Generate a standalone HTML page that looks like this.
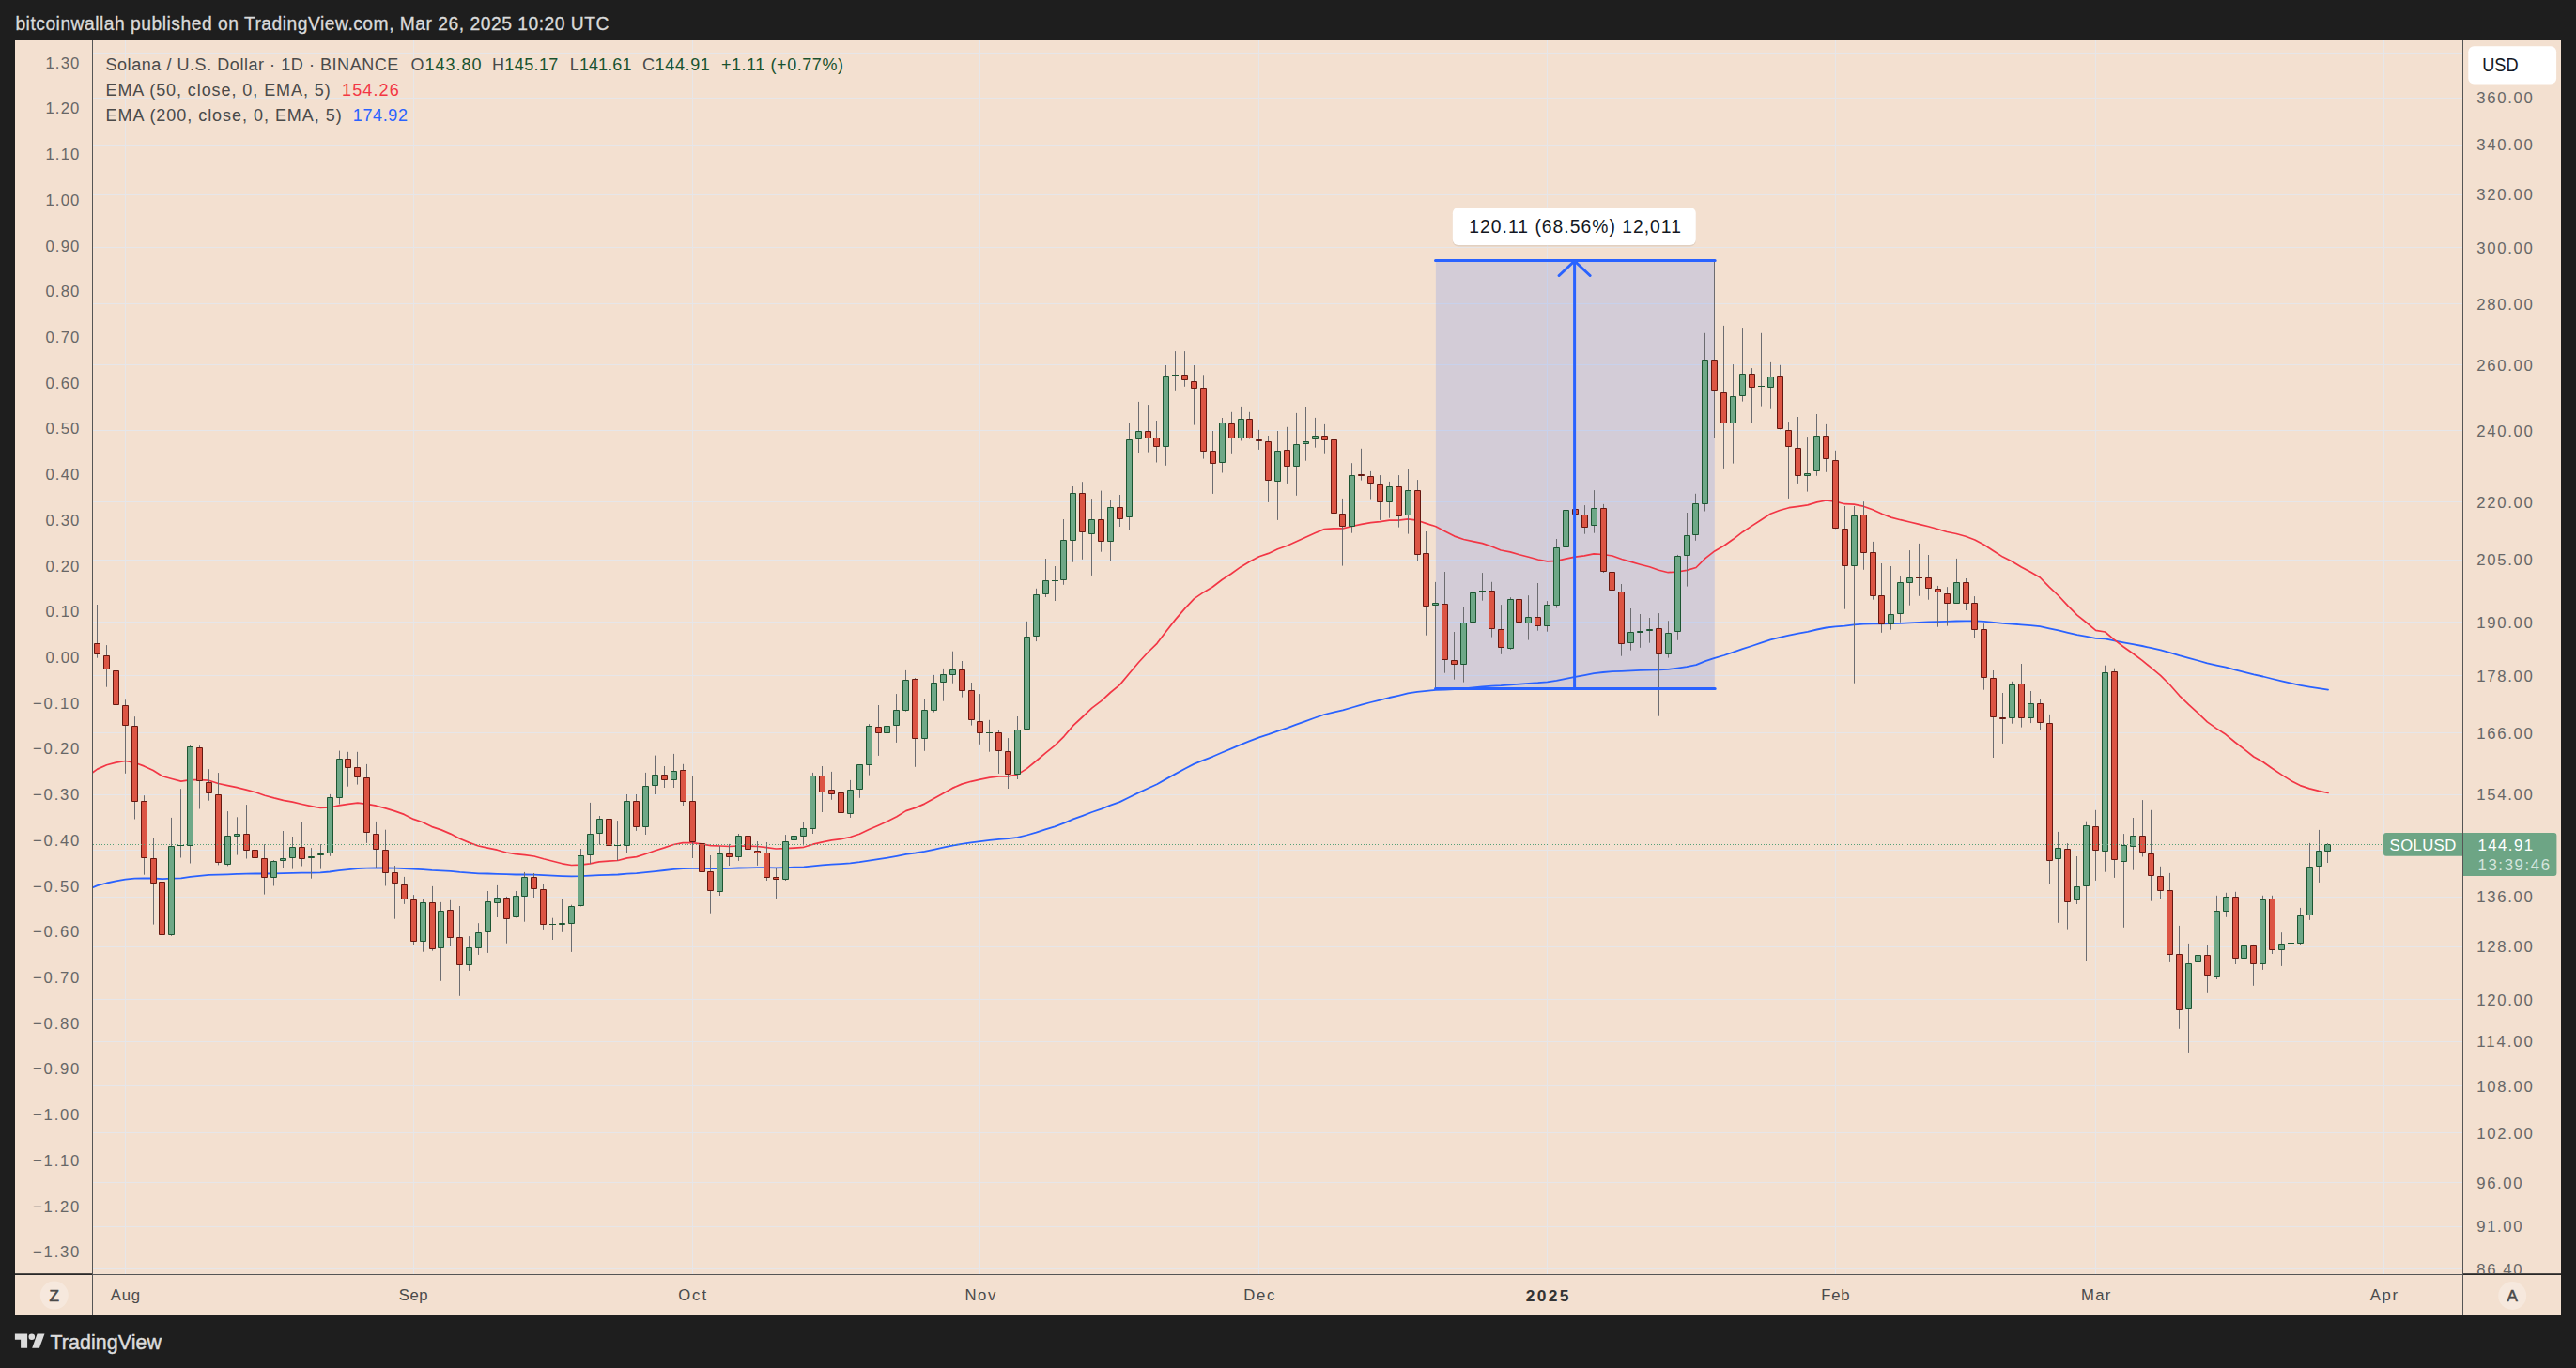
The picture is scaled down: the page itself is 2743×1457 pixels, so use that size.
<!DOCTYPE html>
<html lang="en"><head><meta charset="utf-8"><title>SOLUSD chart</title><style>html,body{margin:0;padding:0;background:#1e1e1e;}body{width:2743px;height:1457px;overflow:hidden;}</style></head><body>
<svg width="2743" height="1457" viewBox="0 0 2743 1457" font-family='"Liberation Sans", Arial, Helvetica, sans-serif' style="display:block">
<rect width="2743" height="1457" fill="#1e1e1e"/>
<rect x="16" y="43" width="2711" height="1358" fill="#f3e0d0"/>
<path d="M99 56.5H2622M99 104.5H2622M99 154.5H2622M99 207.5H2622M99 263.5H2622M99 323.5H2622M99 388.5H2622M99 458.5H2622M99 534.5H2622M99 596.5H2622M99 662.5H2622M99 719.5H2622M99 780.5H2622M99 846.5H2622M99 905.5H2622M99 955.5H2622M99 1008.5H2622M99 1064.5H2622M99 1109.5H2622M99 1156.5H2622M99 1206.5H2622M99 1259.5H2622M99 1306.5H2622M99 1351.5H2622M133.5 43V1357M440.5 43V1357M737.5 43V1357M1043.5 43V1357M1340.5 43V1357M1647.5 43V1357M1954.5 43V1357M2231.5 43V1357M2538.5 43V1357" stroke="#e6e6e9" stroke-width="1" fill="none"/>
<rect x="1528.9" y="277.5" width="296.9" height="456.0" fill="#2962ff" fill-opacity="0.16"/>
<path d="M99.0 945.1 L103.7 943.1 L113.6 940.5 L123.5 938.4 L133.4 936.6 L143.3 935.7 L153.2 935.5 L163.1 935.5 L173.0 936.1 L182.9 935.7 L192.8 935.4 L202.7 933.9 L212.6 932.8 L222.5 931.9 L232.4 931.7 L242.3 931.3 L252.2 930.9 L262.1 930.6 L272.0 930.4 L281.9 930.5 L291.8 930.3 L301.6 930.2 L311.5 929.9 L321.4 929.7 L331.3 929.6 L341.2 929.3 L351.1 928.5 L361.0 927.2 L370.9 926.1 L380.8 925.0 L390.7 924.6 L400.6 924.4 L410.5 924.5 L420.4 924.6 L430.3 925.0 L440.2 925.7 L450.1 926.1 L460.0 926.9 L469.9 927.3 L479.8 927.9 L489.7 928.9 L499.6 929.6 L509.5 930.3 L519.4 930.5 L529.3 930.8 L539.2 931.2 L549.1 931.5 L559.0 931.5 L568.9 931.6 L578.8 932.1 L588.7 932.6 L598.6 933.1 L608.5 933.4 L618.4 933.2 L628.3 932.7 L638.1 932.1 L648.0 931.8 L657.9 931.5 L667.8 930.7 L677.7 930.1 L687.6 929.2 L697.5 928.1 L707.4 927.0 L717.3 925.9 L727.2 925.2 L737.1 924.9 L747.0 924.9 L756.9 925.1 L766.8 925.0 L776.7 924.9 L786.6 924.5 L796.5 924.3 L806.4 924.1 L816.3 924.2 L826.2 924.4 L836.1 924.1 L846.0 923.7 L855.9 923.3 L865.8 922.3 L875.7 921.4 L885.6 920.7 L895.5 920.1 L905.4 919.3 L915.3 918.1 L925.2 916.6 L935.1 915.1 L945.0 913.6 L954.9 911.8 L964.7 909.8 L974.6 908.5 L984.5 906.8 L994.4 904.8 L1004.3 902.7 L1014.2 900.6 L1024.1 898.8 L1034.0 897.4 L1043.9 896.1 L1053.8 894.9 L1063.7 893.9 L1073.6 893.2 L1083.5 891.9 L1093.4 889.5 L1103.3 886.6 L1113.2 883.4 L1123.1 880.3 L1133.0 876.7 L1142.9 872.4 L1152.8 868.8 L1162.7 865.0 L1172.6 861.6 L1182.5 857.7 L1192.4 854.1 L1202.3 849.3 L1212.2 844.4 L1222.1 839.7 L1232.0 835.2 L1241.9 829.6 L1251.8 824.1 L1261.7 818.8 L1271.6 813.6 L1281.5 809.6 L1291.4 805.8 L1301.2 801.5 L1311.1 797.4 L1321.0 793.1 L1330.9 789.2 L1340.8 785.4 L1350.7 782.2 L1360.6 778.6 L1370.5 775.3 L1380.4 771.7 L1390.3 768.1 L1400.2 764.5 L1410.1 761.0 L1420.0 758.6 L1429.9 756.4 L1439.8 753.5 L1449.7 750.6 L1459.6 748.0 L1469.5 745.6 L1479.4 743.0 L1489.3 740.8 L1499.2 738.4 L1509.1 736.8 L1519.0 735.8 L1528.9 734.8 L1538.8 734.5 L1548.7 734.2 L1558.6 733.5 L1568.5 732.4 L1578.4 731.3 L1588.3 730.7 L1598.2 730.2 L1608.1 729.3 L1618.0 728.6 L1627.8 727.8 L1637.7 727.2 L1647.6 726.3 L1657.5 724.8 L1667.4 722.8 L1677.3 720.9 L1687.2 719.1 L1697.1 717.1 L1707.0 716.0 L1716.9 715.1 L1726.8 714.8 L1736.7 714.4 L1746.6 713.9 L1756.5 713.5 L1766.4 713.3 L1776.3 712.9 L1786.2 711.6 L1796.1 710.1 L1806.0 708.2 L1815.9 704.2 L1825.8 700.8 L1835.7 698.0 L1845.6 694.7 L1855.5 691.2 L1865.4 688.0 L1875.3 684.7 L1885.2 681.4 L1895.1 678.8 L1905.0 676.6 L1914.9 674.7 L1924.8 672.8 L1934.7 670.5 L1944.6 668.5 L1954.4 667.4 L1964.3 666.7 L1974.2 665.4 L1984.1 664.6 L1994.0 664.3 L2003.9 664.3 L2013.8 664.2 L2023.7 663.8 L2033.6 663.3 L2043.5 662.8 L2053.4 662.4 L2063.3 662.1 L2073.2 661.9 L2083.1 661.5 L2093.0 661.3 L2102.9 661.4 L2112.8 661.9 L2122.7 662.9 L2132.6 663.8 L2142.5 664.5 L2152.4 665.4 L2162.3 666.2 L2172.2 667.2 L2182.1 669.3 L2192.0 671.4 L2201.9 673.8 L2211.8 676.1 L2221.7 677.9 L2231.6 679.9 L2241.5 680.3 L2251.4 682.3 L2261.3 684.3 L2271.2 686.1 L2281.1 688.0 L2290.9 690.2 L2300.8 692.4 L2310.7 695.1 L2320.6 698.2 L2330.5 700.9 L2340.4 703.5 L2350.3 706.3 L2360.2 708.6 L2370.1 710.7 L2380.0 713.3 L2389.9 715.8 L2399.8 718.4 L2409.7 720.5 L2419.6 723.0 L2429.5 725.4 L2439.4 727.7 L2449.3 729.9 L2459.2 731.6 L2469.1 733.2 L2479.0 734.7" stroke="#2962ff" stroke-width="1.8" fill="none" stroke-linejoin="round" stroke-linecap="round"/>
<path d="M99.0 822.5 L103.7 819.1 L113.6 814.7 L123.5 812.1 L133.4 810.5 L143.3 812.2 L153.2 815.9 L163.1 820.5 L173.0 826.7 L182.9 829.5 L192.8 832.1 L202.7 830.6 L212.6 830.7 L222.5 831.2 L232.4 834.5 L242.3 836.6 L252.2 838.6 L262.1 841.1 L272.0 843.8 L281.9 847.2 L291.8 849.9 L301.6 852.3 L311.5 854.2 L321.4 856.5 L331.3 858.6 L341.2 860.5 L351.1 860.0 L361.0 857.9 L370.9 856.3 L380.8 855.2 L390.7 856.4 L400.6 858.2 L410.5 860.9 L420.4 863.9 L430.3 867.4 L440.2 872.4 L450.1 875.7 L460.0 880.6 L469.9 883.9 L479.8 888.1 L489.7 893.2 L499.6 897.4 L509.5 901.0 L519.4 903.2 L529.3 905.2 L539.2 908.0 L549.1 909.7 L559.0 910.6 L568.9 912.0 L578.8 914.8 L588.7 917.3 L598.6 919.8 L608.5 921.5 L618.4 921.1 L628.3 919.8 L638.1 917.8 L648.0 917.2 L657.9 916.5 L667.8 913.9 L677.7 912.6 L687.6 909.5 L697.5 906.0 L707.4 902.9 L717.3 899.5 L727.2 897.7 L737.1 897.6 L747.0 898.8 L756.9 900.7 L766.8 901.0 L776.7 901.5 L786.6 901.0 L796.5 901.2 L806.4 901.5 L816.3 902.7 L826.2 904.0 L836.1 903.7 L846.0 903.1 L855.9 902.3 L865.8 899.2 L875.7 896.9 L885.6 894.8 L895.5 893.7 L905.4 891.5 L915.3 888.3 L925.2 883.5 L935.1 879.2 L945.0 874.8 L954.9 869.8 L964.7 863.6 L974.6 860.4 L984.5 856.1 L994.4 850.6 L1004.3 845.0 L1014.2 839.4 L1024.1 835.1 L1034.0 832.3 L1043.9 830.2 L1053.8 828.2 L1063.7 827.0 L1073.6 826.9 L1083.5 824.9 L1093.4 818.6 L1103.3 810.5 L1113.2 802.1 L1123.1 794.1 L1133.0 784.3 L1142.9 772.6 L1152.8 763.5 L1162.7 754.2 L1172.6 746.6 L1182.5 737.5 L1192.4 729.4 L1202.3 717.5 L1212.2 705.8 L1222.1 695.0 L1232.0 685.3 L1241.9 672.2 L1251.8 659.6 L1261.7 648.1 L1271.6 637.6 L1281.5 630.9 L1291.4 625.0 L1301.2 617.5 L1311.1 611.0 L1321.0 603.9 L1330.9 598.1 L1340.8 592.7 L1350.7 589.4 L1360.6 584.8 L1370.5 581.2 L1380.4 576.7 L1390.3 572.2 L1400.2 567.7 L1410.1 563.6 L1420.0 562.9 L1429.9 562.8 L1439.8 560.5 L1449.7 558.3 L1459.6 556.6 L1469.5 555.7 L1479.4 554.2 L1489.3 554.1 L1499.2 552.8 L1509.1 554.2 L1519.0 557.6 L1528.9 560.7 L1538.8 565.9 L1548.7 571.1 L1558.6 574.5 L1568.5 576.6 L1578.4 578.6 L1588.3 582.0 L1598.2 586.0 L1608.1 587.9 L1618.0 590.8 L1627.8 593.3 L1637.7 596.0 L1647.6 597.9 L1657.5 597.3 L1667.4 595.1 L1677.3 593.2 L1687.2 591.9 L1697.1 589.8 L1707.0 590.5 L1716.9 592.0 L1726.8 595.5 L1736.7 598.4 L1746.6 601.2 L1756.5 603.8 L1766.4 607.2 L1776.3 609.7 L1786.2 609.0 L1796.1 607.4 L1806.0 604.5 L1815.9 594.7 L1825.8 586.9 L1835.7 581.2 L1845.6 574.3 L1855.5 566.7 L1865.4 560.1 L1875.3 553.7 L1885.2 547.2 L1895.1 543.5 L1905.0 540.7 L1914.9 539.3 L1924.8 537.9 L1934.7 534.9 L1944.6 533.0 L1954.4 534.1 L1964.3 536.7 L1974.2 537.2 L1984.1 539.2 L1994.0 542.8 L2003.9 547.2 L2013.8 551.1 L2023.7 553.7 L2033.6 556.0 L2043.5 558.3 L2053.4 560.8 L2063.3 563.5 L2073.2 566.5 L2083.1 568.5 L2093.0 571.3 L2102.9 575.0 L2112.8 580.2 L2122.7 586.7 L2132.6 593.1 L2142.5 598.0 L2152.4 604.0 L2162.3 609.3 L2172.2 615.0 L2182.1 625.1 L2192.0 634.5 L2201.9 645.2 L2211.8 655.2 L2221.7 663.0 L2231.6 671.3 L2241.5 673.0 L2251.4 681.4 L2261.3 689.0 L2271.2 696.0 L2281.1 703.4 L2290.9 711.4 L2300.8 719.6 L2310.7 729.5 L2320.6 740.8 L2330.5 750.4 L2340.4 759.4 L2350.3 768.9 L2360.2 775.9 L2370.1 782.3 L2380.0 790.5 L2389.9 798.1 L2399.8 806.0 L2409.7 811.5 L2419.6 818.5 L2429.5 825.1 L2439.4 831.4 L2449.3 836.6 L2459.2 839.9 L2469.1 842.4 L2479.0 844.5" stroke="#f23645" stroke-width="1.7" fill="none" stroke-linejoin="round" stroke-linecap="round"/>
<path d="M103.5 644.0V700.7M113.5 687.1V731.7M123.5 688.2V751.4M133.5 745.3V823.8M143.5 763.2V872.5M153.5 847.2V931.7M163.5 892.8V984.6M172.5 933.7V1140.9M182.5 870.9V996.8M192.5 840.2V913.5M202.5 793.0V919.5M212.5 794.2V861.5M222.5 819.2V852.7M232.5 823.1V921.4M242.5 864.1V922.4M252.5 870.3V910.6M262.5 857.1V914.5M271.5 883.0V944.7M281.5 899.1V952.6M291.5 916.1V943.5M301.5 885.0V924.7M311.5 891.0V925.6M321.5 876.0V922.5M331.5 903.1V935.7M341.5 899.1V925.6M351.5 845.9V911.8M361.5 799.6V856.5M370.5 800.8V837.7M380.5 800.8V835.6M390.5 813.9V897.9M400.5 874.9V924.7M410.5 883.7V943.5M420.5 922.0V978.7M430.5 933.9V962.9M440.5 953.1V1007.0M450.5 957.8V1013.7M460.5 943.9V1012.7M469.5 960.9V1044.8M479.5 958.8V1008.0M489.5 965.0V1060.8M499.5 997.1V1033.9M509.5 983.2V1016.9M519.5 949.0V1014.9M529.5 942.9V977.0M539.5 954.9V1004.7M549.5 949.0V977.4M558.5 928.9V981.7M568.5 930.0V956.0M578.5 941.6V989.9M588.5 977.7V1001.0M598.5 957.0V992.8M608.5 963.7V1013.9M618.5 904.0V965.4M628.5 854.9V920.1M638.5 869.0V899.7M648.5 869.0V921.8M657.5 874.1V916.7M667.5 846.0V908.9M677.5 846.0V884.9M687.5 822.9V889.0M697.5 804.6V846.0M707.5 816.0V839.0M717.5 802.9V839.0M727.5 813.8V858.0M737.5 827.0V914.0M747.5 874.8V938.0M756.5 911.0V972.7M766.5 901.1V954.0M776.5 898.9V922.0M786.5 888.0V916.9M796.5 856.1V908.7M806.5 896.0V921.9M816.5 897.0V938.0M826.5 924.8V957.8M836.5 889.1V938.0M845.5 885.0V899.4M855.5 876.0V900.4M865.5 822.9V888.0M875.5 816.0V865.0M885.5 821.9V851.8M895.5 837.0V882.6M905.5 830.9V870.9M915.5 814.2V849.8M925.5 771.2V825.6M935.5 751.0V804.9M944.5 754.9V795.8M954.5 739.1V790.9M964.5 713.9V757.7M974.5 722.1V816.8M984.5 744.0V799.8M994.5 718.9V758.6M1004.5 711.9V746.7M1014.5 693.7V727.7M1024.5 704.0V742.6M1034.5 727.0V772.6M1043.5 739.1V792.8M1053.5 766.8V800.7M1063.5 777.9V823.9M1073.5 786.1V840.0M1083.5 763.0V830.0M1093.5 661.8V778.0M1103.5 626.8V683.1M1113.5 595.0V636.0M1123.5 603.0V640.0M1132.5 553.0V622.8M1142.5 518.0V598.7M1152.5 513.2V595.8M1162.5 531.1V612.9M1172.5 522.6V587.7M1182.5 532.2V597.6M1192.5 527.0V561.0M1202.5 450.9V564.8M1212.5 427.9V482.7M1222.5 431.1V481.6M1231.5 448.0V492.5M1241.5 389.0V495.8M1251.5 374.1V415.8M1261.5 374.1V411.8M1271.5 389.0V452.6M1281.5 399.3V488.6M1291.5 459.0V525.9M1301.5 445.0V503.5M1311.5 438.8V483.8M1321.5 432.9V469.5M1330.5 438.8V467.5M1340.5 457.9V478.9M1350.5 464.0V534.9M1360.5 459.0V553.9M1370.5 454.8V514.9M1380.5 439.9V527.8M1390.5 433.3V490.7M1400.5 444.9V476.7M1410.5 451.9V483.7M1420.5 468.4V594.5M1429.5 530.9V602.6M1439.5 493.2V567.7M1449.5 477.8V511.6M1459.5 501.9V531.5M1469.5 506.1V553.9M1479.5 512.9V551.7M1489.5 506.1V561.6M1499.5 499.7V568.6M1509.5 511.1V597.8M1518.5 566.0V676.7M1528.5 619.9V732.9M1538.5 609.0V716.7M1548.5 673.0V723.7M1558.5 647.0V726.6M1568.5 623.0V681.7M1578.5 610.1V639.7M1588.5 619.8V678.6M1598.5 644.1V696.8M1608.5 636.2V691.8M1617.5 629.3V669.7M1627.5 634.2V681.6M1637.5 621.0V671.7M1647.5 640.1V672.7M1657.5 574.0V647.6M1667.5 534.9V593.7M1677.5 537.0V559.2M1687.5 538.1V568.7M1697.5 522.1V567.7M1707.5 536.9V610.0M1716.5 604.1V667.7M1726.5 622.0V698.7M1736.5 648.0V692.7M1746.5 654.0V689.8M1756.5 658.0V684.7M1766.5 653.1V762.7M1776.5 661.2V700.6M1786.5 590.9V681.8M1796.5 546.0V624.6M1805.5 525.8V575.8M1815.5 354.8V544.5M1825.5 279.0V466.6M1835.5 346.9V498.9M1845.5 388.1V493.6M1855.5 349.1V427.6M1865.5 392.1V450.6M1875.5 354.8V432.6M1885.5 385.9V435.7M1895.5 388.8V457.4M1904.5 449.1V530.9M1914.5 444.0V514.9M1924.5 465.1V523.6M1934.5 441.0V506.8M1944.5 451.9V502.8M1954.5 479.8V563.3M1964.5 539.0V648.7M1974.5 539.0V727.7M1984.5 534.2V606.8M1994.5 576.9V638.7M2003.5 600.0V673.8M2013.5 603.0V670.7M2023.5 614.0V662.8M2033.5 586.1V644.7M2043.5 578.9V634.8M2053.5 591.0V638.7M2063.5 623.9V667.7M2073.5 625.2V666.6M2083.5 594.9V642.5M2093.5 616.0V650.0M2102.5 635.1V679.0M2112.5 664.2V734.7M2122.5 714.0V807.0M2132.5 738.0V791.9M2142.5 725.8V770.7M2152.5 707.0V774.6M2162.5 736.0V770.1M2172.5 744.0V777.8M2182.5 760.9V941.6M2191.5 885.9V982.8M2201.5 898.1V989.6M2211.5 912.0V963.0M2221.5 874.7V1023.6M2231.5 862.8V937.9M2241.5 708.7V928.7M2251.5 711.7V934.9M2261.5 888.1V987.8M2271.5 871.0V926.7M2281.5 852.1V912.5M2290.5 862.8V959.7M2300.5 922.8V957.8M2310.5 929.9V1024.9M2320.5 985.9V1095.8M2330.5 1004.9V1120.9M2340.5 985.9V1054.7M2350.5 1006.8V1057.8M2360.5 953.8V1043.0M2370.5 950.8V976.8M2380.5 949.8V1027.0M2389.5 990.1V1023.9M2399.5 1005.9V1049.8M2409.5 953.8V1032.9M2419.5 953.8V1016.0M2429.5 993.2V1028.9M2439.5 982.1V1008.9M2449.5 966.9V1006.1M2459.5 897.9V979.9M2469.5 883.9V939.9M2478.5 898.1V919.0" stroke="#6c6c70" stroke-width="1" fill="none"/>
<path d="M179.5 901.5H185.5V995.5H179.5ZM189.0 900.5H196.0M199.5 795.5H205.5V900.5H199.5ZM239.5 890.5H245.5V920.5H239.5ZM249.5 888.5H255.5V890.5H249.5ZM288.5 917.5H294.5V934.5H288.5ZM298.5 914.5H304.5V916.5H298.5ZM308.5 902.5H314.5V913.5H308.5ZM328.5 912.5H334.5V913.5H328.5ZM338.5 909.5H344.5V910.5H338.5ZM348.5 849.5H354.5V908.5H348.5ZM358.5 808.5H364.5V849.5H358.5ZM447.5 961.5H453.5V1002.5H447.5ZM466.5 970.5H472.5V1009.5H466.5ZM496.5 1009.5H502.5V1027.5H496.5ZM506.5 993.5H512.5V1009.5H506.5ZM516.5 960.5H522.5V992.5H516.5ZM526.5 956.5H532.5V961.5H526.5ZM546.5 954.5H552.5V976.5H546.5ZM555.5 934.5H561.5V954.5H555.5ZM585.0 984.5H592.0M595.5 983.5H601.5V984.5H595.5ZM605.5 965.5H611.5V983.5H605.5ZM615.5 911.5H621.5V964.5H615.5ZM625.5 888.5H631.5V910.5H625.5ZM635.5 872.5H641.5V887.5H635.5ZM654.0 900.5H661.0M664.5 853.5H670.5V900.5H664.5ZM684.5 837.5H690.5V880.5H684.5ZM694.5 825.5H700.5V836.5H694.5ZM714.5 821.5H720.5V830.5H714.5ZM763.5 909.5H769.5V949.5H763.5ZM783.5 890.5H789.5V912.5H783.5ZM833.5 896.5H839.5V936.5H833.5ZM842.5 890.5H848.5V894.5H842.5ZM852.5 882.5H858.5V890.5H852.5ZM862.5 826.5H868.5V882.5H862.5ZM902.5 841.5H908.5V866.5H902.5ZM912.5 814.5H918.5V840.5H912.5ZM922.5 773.5H928.5V814.5H922.5ZM941.5 773.5H947.5V780.5H941.5ZM951.5 756.5H957.5V772.5H951.5ZM961.5 724.5H967.5V756.5H961.5ZM981.5 756.5H987.5V786.5H981.5ZM991.5 727.5H997.5V756.5H991.5ZM1001.5 718.5H1007.5V726.5H1001.5ZM1011.5 713.5H1017.5V718.5H1011.5ZM1050.0 780.5H1057.0M1080.5 777.5H1086.5V824.5H1080.5ZM1090.5 678.5H1096.5V776.5H1090.5ZM1100.5 633.5H1106.5V677.5H1100.5ZM1110.5 618.5H1116.5V632.5H1110.5ZM1120.0 618.5H1127.0M1129.5 575.5H1135.5V617.5H1129.5ZM1139.5 525.5H1145.5V575.5H1139.5ZM1159.5 553.5H1165.5V568.5H1159.5ZM1179.5 540.5H1185.5V576.5H1179.5ZM1199.5 468.5H1205.5V550.5H1199.5ZM1209.5 459.5H1215.5V467.5H1209.5ZM1238.5 400.5H1244.5V475.5H1238.5ZM1248.0 399.5H1255.0M1298.5 450.5H1304.5V492.5H1298.5ZM1318.5 446.5H1324.5V466.5H1318.5ZM1357.5 480.5H1363.5V512.5H1357.5ZM1377.5 473.5H1383.5V496.5H1377.5ZM1387.5 470.5H1393.5V472.5H1387.5ZM1397.5 464.5H1403.5V467.5H1397.5ZM1436.5 506.5H1442.5V560.5H1436.5ZM1476.5 518.5H1482.5V534.5H1476.5ZM1496.5 522.5H1502.5V548.5H1496.5ZM1525.5 642.5H1531.5V644.5H1525.5ZM1555.5 663.5H1561.5V707.5H1555.5ZM1565.5 631.5H1571.5V662.5H1565.5ZM1575.0 629.5H1582.0M1605.5 638.5H1611.5V690.5H1605.5ZM1624.5 657.5H1630.5V663.5H1624.5ZM1644.5 644.5H1650.5V666.5H1644.5ZM1654.5 583.5H1660.5V644.5H1654.5ZM1664.5 543.5H1670.5V582.5H1664.5ZM1694.5 541.5H1700.5V559.5H1694.5ZM1733.5 673.5H1739.5V684.5H1733.5ZM1743.5 672.5H1749.5V673.5H1743.5ZM1753.5 670.5H1759.5V671.5H1753.5ZM1773.5 674.5H1779.5V696.5H1773.5ZM1783.5 592.5H1789.5V672.5H1783.5ZM1793.5 570.5H1799.5V591.5H1793.5ZM1802.5 536.5H1808.5V569.5H1802.5ZM1812.5 383.5H1818.5V536.5H1812.5ZM1842.5 422.5H1848.5V450.5H1842.5ZM1852.5 398.5H1858.5V421.5H1852.5ZM1872.0 411.5H1879.0M1882.5 401.5H1888.5V412.5H1882.5ZM1921.5 504.5H1927.5V506.5H1921.5ZM1931.5 464.5H1937.5V501.5H1931.5ZM1971.5 549.5H1977.5V602.5H1971.5ZM2010.5 654.5H2016.5V664.5H2010.5ZM2020.5 620.5H2026.5V653.5H2020.5ZM2030.5 615.5H2036.5V620.5H2030.5ZM2080.5 620.5H2086.5V642.5H2080.5ZM2139.5 729.5H2145.5V764.5H2139.5ZM2159.5 749.5H2165.5V764.5H2159.5ZM2188.5 903.5H2194.5V914.5H2188.5ZM2208.5 944.5H2214.5V958.5H2208.5ZM2218.5 879.5H2224.5V943.5H2218.5ZM2238.5 716.5H2244.5V906.5H2238.5ZM2258.5 900.5H2264.5V917.5H2258.5ZM2268.5 890.5H2274.5V901.5H2268.5ZM2327.5 1026.5H2333.5V1074.5H2327.5ZM2337.5 1017.5H2343.5V1024.5H2337.5ZM2357.5 970.5H2363.5V1040.5H2357.5ZM2367.5 955.5H2373.5V970.5H2367.5ZM2386.5 1007.5H2392.5V1020.5H2386.5ZM2406.5 958.5H2412.5V1026.5H2406.5ZM2426.5 1005.5H2432.5V1011.5H2426.5ZM2436.0 1004.5H2443.0M2446.5 975.5H2452.5V1004.5H2446.5ZM2456.5 923.5H2462.5V974.5H2456.5ZM2466.5 906.5H2472.5V922.5H2466.5ZM2475.5 899.5H2481.5V906.5H2475.5Z" fill="#6ea887" stroke="#1c5532" stroke-width="1"/>
<path d="M100.5 685.5H106.5V696.5H100.5ZM110.5 698.5H116.5V712.5H110.5ZM120.5 714.5H126.5V750.5H120.5ZM130.5 751.5H136.5V772.5H130.5ZM140.5 773.5H146.5V853.5H140.5ZM150.5 853.5H156.5V913.5H150.5ZM160.5 914.5H166.5V940.5H160.5ZM169.5 939.5H175.5V995.5H169.5ZM209.5 796.5H215.5V831.5H209.5ZM219.5 833.5H225.5V844.5H219.5ZM229.5 846.5H235.5V918.5H229.5ZM259.5 888.5H265.5V905.5H259.5ZM268.5 905.5H274.5V913.5H268.5ZM278.5 914.5H284.5V934.5H278.5ZM318.5 902.5H324.5V914.5H318.5ZM367.5 808.5H373.5V817.5H367.5ZM377.5 817.5H383.5V827.5H377.5ZM387.5 828.5H393.5V886.5H387.5ZM397.5 888.5H403.5V904.5H397.5ZM407.5 905.5H413.5V929.5H407.5ZM417.5 929.5H423.5V940.5H417.5ZM427.5 942.5H433.5V957.5H427.5ZM437.5 958.5H443.5V1002.5H437.5ZM457.5 961.5H463.5V1010.5H457.5ZM476.5 969.5H482.5V998.5H476.5ZM486.5 998.5H492.5V1027.5H486.5ZM536.5 956.5H542.5V978.5H536.5ZM565.5 934.5H571.5V946.5H565.5ZM575.5 947.5H581.5V984.5H575.5ZM645.5 872.5H651.5V900.5H645.5ZM674.5 853.5H680.5V880.5H674.5ZM704.5 825.5H710.5V830.5H704.5ZM724.5 820.5H730.5V853.5H724.5ZM734.5 853.5H740.5V896.5H734.5ZM744.5 898.5H750.5V928.5H744.5ZM753.5 928.5H759.5V948.5H753.5ZM773.5 909.5H779.5V912.5H773.5ZM793.5 890.5H799.5V904.5H793.5ZM803.5 906.5H809.5V908.5H803.5ZM813.5 908.5H819.5V934.5H813.5ZM823.5 934.5H829.5V936.5H823.5ZM872.5 826.5H878.5V843.5H872.5ZM882.5 841.5H888.5V845.5H882.5ZM892.5 844.5H898.5V865.5H892.5ZM932.5 774.5H938.5V780.5H932.5ZM971.5 723.5H977.5V786.5H971.5ZM1021.5 713.5H1027.5V735.5H1021.5ZM1031.5 735.5H1037.5V766.5H1031.5ZM1040.5 768.5H1046.5V780.5H1040.5ZM1060.5 780.5H1066.5V799.5H1060.5ZM1070.5 800.5H1076.5V824.5H1070.5ZM1149.5 525.5H1155.5V566.5H1149.5ZM1169.5 553.5H1175.5V576.5H1169.5ZM1189.5 540.5H1195.5V552.5H1189.5ZM1219.5 459.5H1225.5V466.5H1219.5ZM1228.5 466.5H1234.5V475.5H1228.5ZM1258.5 399.5H1264.5V404.5H1258.5ZM1268.5 406.5H1274.5V413.5H1268.5ZM1278.5 413.5H1284.5V480.5H1278.5ZM1288.5 480.5H1294.5V493.5H1288.5ZM1308.5 451.5H1314.5V466.5H1308.5ZM1327.5 446.5H1333.5V466.5H1327.5ZM1337.5 468.5H1343.5V469.5H1337.5ZM1347.5 470.5H1353.5V511.5H1347.5ZM1367.5 479.5H1373.5V496.5H1367.5ZM1407.5 464.5H1413.5V468.5H1407.5ZM1417.5 468.5H1423.5V546.5H1417.5ZM1426.5 547.5H1432.5V560.5H1426.5ZM1446.5 505.5H1452.5V506.5H1446.5ZM1456.5 507.5H1462.5V514.5H1456.5ZM1466.5 516.5H1472.5V534.5H1466.5ZM1486.5 518.5H1492.5V549.5H1486.5ZM1506.5 522.5H1512.5V590.5H1506.5ZM1515.5 589.5H1521.5V645.5H1515.5ZM1535.5 643.5H1541.5V702.5H1535.5ZM1545.5 703.5H1551.5V707.5H1545.5ZM1585.5 629.5H1591.5V669.5H1585.5ZM1595.5 670.5H1601.5V689.5H1595.5ZM1614.5 638.5H1620.5V662.5H1614.5ZM1634.5 657.5H1640.5V666.5H1634.5ZM1674.5 542.5H1680.5V547.5H1674.5ZM1684.5 548.5H1690.5V561.5H1684.5ZM1704.5 541.5H1710.5V608.5H1704.5ZM1713.5 609.5H1719.5V628.5H1713.5ZM1723.5 630.5H1729.5V685.5H1723.5ZM1763.5 669.5H1769.5V696.5H1763.5ZM1822.5 383.5H1828.5V415.5H1822.5ZM1832.5 418.5H1838.5V450.5H1832.5ZM1862.5 398.5H1868.5V412.5H1862.5ZM1892.5 400.5H1898.5V456.5H1892.5ZM1901.5 458.5H1907.5V475.5H1901.5ZM1911.5 477.5H1917.5V506.5H1911.5ZM1941.5 464.5H1947.5V488.5H1941.5ZM1951.5 490.5H1957.5V562.5H1951.5ZM1961.5 563.5H1967.5V602.5H1961.5ZM1981.5 548.5H1987.5V588.5H1981.5ZM1991.5 588.5H1997.5V634.5H1991.5ZM2000.5 634.5H2006.5V664.5H2000.5ZM2040.0 615.5H2047.0M2050.5 615.5H2056.5V626.5H2050.5ZM2060.5 627.5H2066.5V630.5H2060.5ZM2070.5 632.5H2076.5V642.5H2070.5ZM2090.5 620.5H2096.5V642.5H2090.5ZM2099.5 642.5H2105.5V670.5H2099.5ZM2109.5 670.5H2115.5V721.5H2109.5ZM2119.5 722.5H2125.5V763.5H2119.5ZM2129.5 764.5H2135.5V765.5H2129.5ZM2149.5 728.5H2155.5V764.5H2149.5ZM2169.5 749.5H2175.5V769.5H2169.5ZM2179.5 770.5H2185.5V916.5H2179.5ZM2198.5 904.5H2204.5V960.5H2198.5ZM2228.5 880.5H2234.5V905.5H2228.5ZM2248.5 715.5H2254.5V915.5H2248.5ZM2278.5 890.5H2284.5V907.5H2278.5ZM2287.5 909.5H2293.5V932.5H2287.5ZM2297.5 933.5H2303.5V948.5H2297.5ZM2307.5 948.5H2313.5V1016.5H2307.5ZM2317.5 1016.5H2323.5V1075.5H2317.5ZM2347.5 1017.5H2353.5V1038.5H2347.5ZM2377.5 955.5H2383.5V1020.5H2377.5ZM2396.5 1007.5H2402.5V1026.5H2396.5ZM2416.5 957.5H2422.5V1011.5H2416.5Z" fill="#dc5544" stroke="#651810" stroke-width="1"/>
<path d="M99 899.5H2538" stroke="#55a078" stroke-width="1" stroke-dasharray="1 2" fill="none"/>
<g stroke="#2962ff" stroke-width="3" fill="none" stroke-linecap="round" stroke-linejoin="round"><path d="M1528.5 277.5H1826.2M1528.5 733.5H1826.2M1676.6 733.5V278.5M1660.1 293.5L1676.6 278.0L1693.1 293.5"/></g>
<rect x="1546.8" y="222.4" width="259" height="40.2" rx="6" fill="#000" fill-opacity="0.07"/>
<rect x="1546.8" y="220.9" width="259" height="40.2" rx="6" fill="#ffffff"/>
<text x="1564.3" y="248.2" font-size="19.3" fill="#131722" textLength="225.6" lengthAdjust="spacing">120.11 (68.56%) 12,011</text>
<path d="M98.5 43V1401M2622.5 43V1401M16 1357.5H2727" stroke="#555555" stroke-width="1" fill="none"/>
<path d="M16 1357H98M2623 1357H2727" stroke="#1a1a1a" stroke-width="1.6" fill="none"/>
<text x="84.4" y="72.6" font-size="16.7" fill="#676767" text-anchor="end" textLength="36.0" lengthAdjust="spacing">1.30</text>
<text x="84.4" y="121.3" font-size="16.7" fill="#676767" text-anchor="end" textLength="36.0" lengthAdjust="spacing">1.20</text>
<text x="84.4" y="170.0" font-size="16.7" fill="#676767" text-anchor="end" textLength="36.0" lengthAdjust="spacing">1.10</text>
<text x="84.4" y="218.8" font-size="16.7" fill="#676767" text-anchor="end" textLength="36.0" lengthAdjust="spacing">1.00</text>
<text x="84.4" y="267.5" font-size="16.7" fill="#676767" text-anchor="end" textLength="36.0" lengthAdjust="spacing">0.90</text>
<text x="84.4" y="316.2" font-size="16.7" fill="#676767" text-anchor="end" textLength="36.0" lengthAdjust="spacing">0.80</text>
<text x="84.4" y="364.9" font-size="16.7" fill="#676767" text-anchor="end" textLength="36.0" lengthAdjust="spacing">0.70</text>
<text x="84.4" y="413.6" font-size="16.7" fill="#676767" text-anchor="end" textLength="36.0" lengthAdjust="spacing">0.60</text>
<text x="84.4" y="462.4" font-size="16.7" fill="#676767" text-anchor="end" textLength="36.0" lengthAdjust="spacing">0.50</text>
<text x="84.4" y="511.1" font-size="16.7" fill="#676767" text-anchor="end" textLength="36.0" lengthAdjust="spacing">0.40</text>
<text x="84.4" y="559.8" font-size="16.7" fill="#676767" text-anchor="end" textLength="36.0" lengthAdjust="spacing">0.30</text>
<text x="84.4" y="608.5" font-size="16.7" fill="#676767" text-anchor="end" textLength="36.0" lengthAdjust="spacing">0.20</text>
<text x="84.4" y="657.2" font-size="16.7" fill="#676767" text-anchor="end" textLength="36.0" lengthAdjust="spacing">0.10</text>
<text x="84.4" y="706.0" font-size="16.7" fill="#676767" text-anchor="end" textLength="36.0" lengthAdjust="spacing">0.00</text>
<text x="84.4" y="754.7" font-size="16.7" fill="#676767" text-anchor="end" textLength="49.3" lengthAdjust="spacing">−0.10</text>
<text x="84.4" y="803.4" font-size="16.7" fill="#676767" text-anchor="end" textLength="49.3" lengthAdjust="spacing">−0.20</text>
<text x="84.4" y="852.1" font-size="16.7" fill="#676767" text-anchor="end" textLength="49.3" lengthAdjust="spacing">−0.30</text>
<text x="84.4" y="900.8" font-size="16.7" fill="#676767" text-anchor="end" textLength="49.3" lengthAdjust="spacing">−0.40</text>
<text x="84.4" y="949.6" font-size="16.7" fill="#676767" text-anchor="end" textLength="49.3" lengthAdjust="spacing">−0.50</text>
<text x="84.4" y="998.3" font-size="16.7" fill="#676767" text-anchor="end" textLength="49.3" lengthAdjust="spacing">−0.60</text>
<text x="84.4" y="1047.0" font-size="16.7" fill="#676767" text-anchor="end" textLength="49.3" lengthAdjust="spacing">−0.70</text>
<text x="84.4" y="1095.7" font-size="16.7" fill="#676767" text-anchor="end" textLength="49.3" lengthAdjust="spacing">−0.80</text>
<text x="84.4" y="1144.4" font-size="16.7" fill="#676767" text-anchor="end" textLength="49.3" lengthAdjust="spacing">−0.90</text>
<text x="84.4" y="1193.2" font-size="16.7" fill="#676767" text-anchor="end" textLength="49.3" lengthAdjust="spacing">−1.00</text>
<text x="84.4" y="1241.9" font-size="16.7" fill="#676767" text-anchor="end" textLength="49.3" lengthAdjust="spacing">−1.10</text>
<text x="84.4" y="1290.6" font-size="16.7" fill="#676767" text-anchor="end" textLength="49.3" lengthAdjust="spacing">−1.20</text>
<text x="84.4" y="1339.3" font-size="16.7" fill="#676767" text-anchor="end" textLength="49.3" lengthAdjust="spacing">−1.30</text>
<clipPath id="rax"><rect x="2623" y="43" width="104" height="1313.3"/></clipPath>
<g clip-path="url(#rax)">
<text x="2637.3" y="110.1" font-size="16.7" fill="#676767" textLength="59.4" lengthAdjust="spacing">360.00</text>
<text x="2637.3" y="160.1" font-size="16.7" fill="#676767" textLength="59.4" lengthAdjust="spacing">340.00</text>
<text x="2637.3" y="213.1" font-size="16.7" fill="#676767" textLength="59.4" lengthAdjust="spacing">320.00</text>
<text x="2637.3" y="269.5" font-size="16.7" fill="#676767" textLength="59.4" lengthAdjust="spacing">300.00</text>
<text x="2637.3" y="329.8" font-size="16.7" fill="#676767" textLength="59.4" lengthAdjust="spacing">280.00</text>
<text x="2637.3" y="394.6" font-size="16.7" fill="#676767" textLength="59.4" lengthAdjust="spacing">260.00</text>
<text x="2637.3" y="464.6" font-size="16.7" fill="#676767" textLength="59.4" lengthAdjust="spacing">240.00</text>
<text x="2637.3" y="540.6" font-size="16.7" fill="#676767" textLength="59.4" lengthAdjust="spacing">220.00</text>
<text x="2637.3" y="602.4" font-size="16.7" fill="#676767" textLength="59.4" lengthAdjust="spacing">205.00</text>
<text x="2637.3" y="668.8" font-size="16.7" fill="#676767" textLength="59.4" lengthAdjust="spacing">190.00</text>
<text x="2637.3" y="725.8" font-size="16.7" fill="#676767" textLength="59.4" lengthAdjust="spacing">178.00</text>
<text x="2637.3" y="786.8" font-size="16.7" fill="#676767" textLength="59.4" lengthAdjust="spacing">166.00</text>
<text x="2637.3" y="852.4" font-size="16.7" fill="#676767" textLength="59.4" lengthAdjust="spacing">154.00</text>
<text x="2637.3" y="961.1" font-size="16.7" fill="#676767" textLength="59.4" lengthAdjust="spacing">136.00</text>
<text x="2637.3" y="1014.1" font-size="16.7" fill="#676767" textLength="59.4" lengthAdjust="spacing">128.00</text>
<text x="2637.3" y="1070.5" font-size="16.7" fill="#676767" textLength="59.4" lengthAdjust="spacing">120.00</text>
<text x="2637.3" y="1115.3" font-size="16.7" fill="#676767" textLength="59.4" lengthAdjust="spacing">114.00</text>
<text x="2637.3" y="1162.6" font-size="16.7" fill="#676767" textLength="59.4" lengthAdjust="spacing">108.00</text>
<text x="2637.3" y="1212.6" font-size="16.7" fill="#676767" textLength="59.4" lengthAdjust="spacing">102.00</text>
<text x="2637.3" y="1265.6" font-size="16.7" fill="#676767" textLength="48.2" lengthAdjust="spacing">96.00</text>
<text x="2637.3" y="1312.3" font-size="16.7" fill="#676767" textLength="48.2" lengthAdjust="spacing">91.00</text>
<text x="2637.3" y="1357.7" font-size="16.7" fill="#676767" textLength="48.2" lengthAdjust="spacing">86.40</text>
</g>
<rect x="2628.3" y="49.3" width="93.8" height="40.2" rx="6" fill="#ffffff"/>
<text x="2643.2" y="76.1" font-size="19.3" fill="#131722" textLength="38.4" lengthAdjust="spacingAndGlyphs">USD</text>
<path d="M2541 887H2622.5V911.8H2541a3 3 0 0 1-3-3V890a3 3 0 0 1 3-3Z" fill="#6da585"/>
<path d="M2622.5 887H2719.4a3 3 0 0 1 3 3V930a3 3 0 0 1-3 3H2622.5Z" fill="#6da585"/>
<path d="M2622.5 887V933" stroke="#555555" stroke-width="1"/>
<text x="2544.6" y="906.0" font-size="16.7" fill="#ffffff" textLength="70.6" lengthAdjust="spacing">SOLUSD</text>
<text x="2638.5" y="906.0" font-size="16.7" fill="#ffffff" textLength="58.5" lengthAdjust="spacing">144.91</text>
<text x="2638.5" y="926.6" font-size="16.7" fill="#ffffff" textLength="76.5" lengthAdjust="spacing" fill-opacity="0.72">13:39:46</text>
<text x="133.4" y="1385.4" font-size="16.7" fill="#4a4a4a" text-anchor="middle" textLength="31.5" lengthAdjust="spacing">Aug</text>
<text x="440.2" y="1385.4" font-size="16.7" fill="#4a4a4a" text-anchor="middle" textLength="30.7" lengthAdjust="spacing">Sep</text>
<text x="737.1" y="1385.4" font-size="16.7" fill="#4a4a4a" text-anchor="middle" textLength="29.9" lengthAdjust="spacing">Oct</text>
<text x="1043.9" y="1385.4" font-size="16.7" fill="#4a4a4a" text-anchor="middle" textLength="32.9" lengthAdjust="spacing">Nov</text>
<text x="1340.8" y="1385.4" font-size="16.7" fill="#4a4a4a" text-anchor="middle" textLength="32.9" lengthAdjust="spacing">Dec</text>
<text x="1647.6" y="1385.6" font-size="17.4" fill="#333333" text-anchor="middle" font-weight="bold" textLength="45.8" lengthAdjust="spacing">2025</text>
<text x="1954.4" y="1385.4" font-size="16.7" fill="#4a4a4a" text-anchor="middle" textLength="30.4" lengthAdjust="spacing">Feb</text>
<text x="2231.6" y="1385.4" font-size="16.7" fill="#4a4a4a" text-anchor="middle" textLength="31.3" lengthAdjust="spacing">Mar</text>
<text x="2538.4" y="1385.4" font-size="16.7" fill="#4a4a4a" text-anchor="middle" textLength="29.1" lengthAdjust="spacing">Apr</text>
<circle cx="57.8" cy="1379.6" r="15" fill="#ffffff" fill-opacity="0.28"/>
<text x="57.8" y="1385.9" font-size="17" fill="#4a4a4a" text-anchor="middle" stroke="#4a4a4a" stroke-width="0.6">Z</text>
<circle cx="2675.2" cy="1380" r="15" fill="#ffffff" fill-opacity="0.28"/>
<text x="2675.2" y="1386.2" font-size="17" fill="#4a4a4a" text-anchor="middle" stroke="#4a4a4a" stroke-width="0.6">A</text>
<text x="112.5" y="75.0" font-size="18" fill="#4a4a4a" textLength="311.8" lengthAdjust="spacing">Solana / U.S. Dollar · 1D · BINANCE</text>
<text x="437.5" y="75" font-size="18" fill="#4a4a4a" textLength="74.9" lengthAdjust="spacing">O<tspan fill="#19522f">143.80</tspan></text>
<text x="524.0" y="75" font-size="18" fill="#4a4a4a" textLength="70.3" lengthAdjust="spacing">H<tspan fill="#19522f">145.17</tspan></text>
<text x="606.8" y="75" font-size="18" fill="#4a4a4a" textLength="65.6" lengthAdjust="spacing">L<tspan fill="#19522f">141.61</tspan></text>
<text x="684.0" y="75" font-size="18" fill="#4a4a4a" textLength="71.8" lengthAdjust="spacing">C<tspan fill="#19522f">144.91</tspan></text>
<text x="767.9" y="75.0" font-size="18" fill="#19522f" textLength="130.1" lengthAdjust="spacing">+1.11 (+0.77%)</text>
<text x="112.5" y="102.0" font-size="18" fill="#4a4a4a" textLength="239.2" lengthAdjust="spacing">EMA (50, close, 0, EMA, 5)</text>
<text x="364.1" y="102.0" font-size="18" fill="#f23645" textLength="60.6" lengthAdjust="spacing">154.26</text>
<text x="112.5" y="129.0" font-size="18" fill="#4a4a4a" textLength="251.2" lengthAdjust="spacing">EMA (200, close, 0, EMA, 5)</text>
<text x="375.8" y="129.0" font-size="18" fill="#2962ff" textLength="58.2" lengthAdjust="spacing">174.92</text>
<text x="16.4" y="32.4" font-size="19.3" fill="#dadada" textLength="632.0" lengthAdjust="spacing" stroke="#dadada" stroke-width="0.3">bitcoinwallah published on TradingView.com, Mar 26, 2025 10:20 UTC</text>
<g fill="#dcdcdc"><path d="M15.9 1420.4H29.1V1435.7H22.1V1426.8H15.9Z"/><circle cx="33.8" cy="1423.7" r="3.3"/><path d="M39.6 1420.4H47.5L41.9 1435.7H34.2Z"/></g>
<text x="53.4" y="1436.7" font-size="21.4" fill="#dcdcdc" textLength="118.6" lengthAdjust="spacing" stroke="#dcdcdc" stroke-width="0.45">TradingView</text>
</svg>
</body></html>
